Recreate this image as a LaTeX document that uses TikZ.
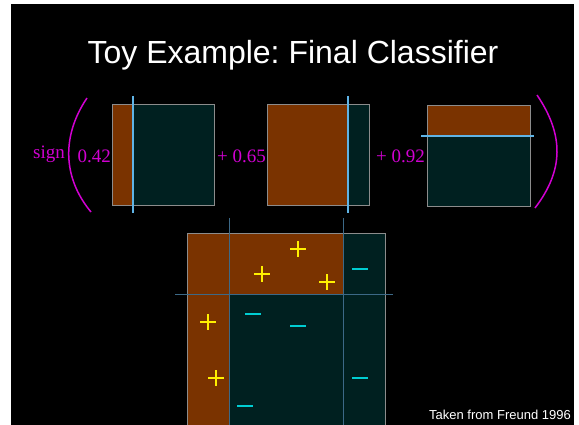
\documentclass[tikz,border=0pt]{standalone}
\usepackage{fontspec}
\setmainfont{Liberation Serif}
\setsansfont{Liberation Sans}
\usepackage{xcolor}
\definecolor{brownfill}{RGB}{122,51,0}
\definecolor{tealfill}{RGB}{0,32,32}
\definecolor{boxedge}{RGB}{140,140,140}
\definecolor{splitblue}{RGB}{95,180,230}
\definecolor{gridblue}{RGB}{60,105,135}
\definecolor{signmag}{RGB}{210,0,210}
\definecolor{plusyellow}{RGB}{255,240,0}
\definecolor{minuscyan}{RGB}{0,205,210}
\frenchspacing

\begin{document}
\begin{tikzpicture}[x=1pt,y=-1pt,
  wt/.style={inner sep=0pt,signmag,font=\fontsize{19}{19}\selectfont},
  edge/.style={draw=boxedge,line width=0.8pt},
  splitline/.style={splitblue,line width=1.8pt},
  gridline/.style={gridblue,line width=0.9pt},
  paren/.style={signmag,line width=1.5pt},
  plusmark/.style={plusyellow,line width=2pt},
  minusmark/.style={minuscyan,line width=2pt}]
\useasboundingbox (0,0) rectangle (579,425);
\fill[black] (11,4) rectangle (574,425);
\node[white,font=\sffamily\fontsize{32}{32}\selectfont,anchor=base] (title) at (293,64) {Toy Example: Final Classifier};
% weak classifiers
\fill[tealfill] (112,104) rectangle (214,205);
\fill[brownfill] (112,104) rectangle (133,205);
\draw[edge] (112,104) rectangle (214,205);
\draw[splitline] (133,96)--(133,213);
\fill[tealfill] (267,104) rectangle (369,205);
\fill[brownfill] (267,104) rectangle (348,205);
\draw[edge] (267,104) rectangle (369,205);
\draw[splitline] (348,96)--(348,213);
\fill[tealfill] (427,105) rectangle (530,206);
\fill[brownfill] (427,105) rectangle (530,136);
\draw[edge] (427,105) rectangle (530,206);
\draw[splitline] (421,136)--(534,136);
\draw[paren] (87,98) .. controls (62,135) and (62,177) .. (91,212);
\draw[paren] (537,95) .. controls (564,135) and (564,170) .. (535,208);
\node[wt,anchor=base west] (sign) at (33,159) {sign};
\node[wt,anchor=base east] (w1) at (111,163) {0.42};
\node[wt,anchor=base west] (w2) at (217,163) {+ 0.65};
\node[wt,anchor=base west] (w3) at (376,163) {+ 0.92};
% combined classifier
\fill[tealfill] (187,233) rectangle (385,425);
\fill[brownfill] (187,233) rectangle (343,294);
\fill[brownfill] (187,294) rectangle (229,425);
\draw[edge] (187,425)--(187,233)--(385,233)--(385,425);
\draw[gridline] (229,218)--(229,425);
\draw[gridline] (343,218)--(343,425);
\draw[gridline] (175,294)--(393,294);
\foreach \px/\py in {298/249,262/274,327/282,208/322,216/378}
  \draw[plusmark] (\px-8,\py)--(\px+8,\py) (\px,\py-8)--(\px,\py+8);
\foreach \px/\py in {360/269,253/314,298/326,360/378,245/406}
  \draw[minusmark] (\px-8,\py)--(\px+8,\py);
\node[white,font=\sffamily\fontsize{13}{13}\selectfont,anchor=base east,inner sep=0pt] (credit) at (571,419) {Taken from Freund 1996};
\end{tikzpicture}
\end{document}
